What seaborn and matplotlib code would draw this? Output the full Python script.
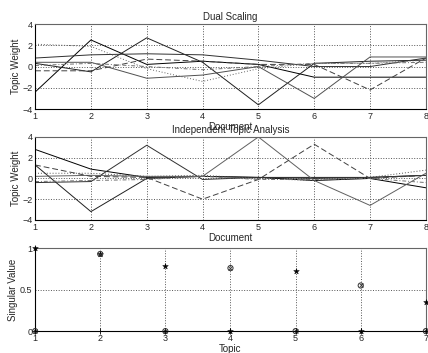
import numpy as np
import pandas as pd
import matplotlib
matplotlib.use("Agg")
import matplotlib.pyplot as plt
import seaborn as sns

# Dados
documents = [1, 2, 3, 4, 5, 6, 7, 8]

dual_scaling = {
    "t1": [-2.4, 2.5, 0.2, 0.5, 0.2, -1.0, -1.0, -1.0],
    "t2": [0.3, -0.5, 2.7, 0.4, -3.6, 0.3, 0.5, 0.6],
    "t3": [0.8, 1.1, 1.2, 1.1, 0.6, 0.0, 0.0, 0.8],
    "t4": [2.1, 1.9, -0.2, -1.4, -0.2, 0.3, 0.3, 0.6],
    "t5": [-0.4, -0.4, 0.7, 0.5, 0.2, 0.2, -2.2, 0.8],
    "t6": [0.4, 0.4, -1.1, -0.8, 0.0, -3.0, 0.9, 0.9],
    "t7": [0.1, 0.3, 0.0, -0.3, 0.0, 0.3, 0.3, 0.4],
}

ica = {
    "t1": [2.8, 0.9, 0.1, 0.2, 0.1, -0.2, 0.0, -0.9],
    "t2": [1.3, -3.2, 0.0, 0.2, 0.1, 0.1, 0.1, 0.3],
    "t3": [-0.4, -0.3, 3.2, -0.1, 0.1, 0.0, 0.1, 0.3],
    "t4": [0.2, 0.3, 0.2, 0.2, 4.0, -0.2, -2.6, 0.5],
    "t5": [1.3, 0.2, 0.1, -2.0, -0.1, 3.3, 0.0, 0.3],
    "t6": [0.5, 0.5, 0.2, 0.3, 0.0, -0.2, 0.1, 0.8],
    "t7": [-0.3, -0.2, -0.1, 0.2, -0.1, -0.1, 0.0, -0.4],
}

topics = [1, 2, 3, 4, 5, 6, 7]
sv_star = [1.0, 0.93, 0.78, 0.0, 0.72, 0.0, 0.35]
sv_circle = [0.0, 0.93, 0.0, 0.76, 0.0, 0.55, 0.0]
sv_plus = [0.0, 0.0, 0.0, 0.0, 0.0, 0.0, 0.0]


def to_long(d):
    rows = []
    for k, vals in d.items():
        for x, v in zip(documents, vals):
            rows.append({"doc": x, "weight": v, "topic": k})
    return pd.DataFrame(rows)


sns.set_style("white")
plt.rcParams["font.family"] = ["Liberation Sans", "DejaVu Sans"]
plt.rcParams["font.size"] = 7

grays = ["#000000", "#202020", "#303030", "#606060", "#404040", "#505050", "#707070"]
dashes_dual = ["", "", "", (1, 2), (6, 3), "", (4, 2, 1, 2)]
dashes_ica = ["", "", "", "", (6, 3), (1, 2), (4, 2, 1, 2)]

fig = plt.figure(figsize=(4.28, 3.53), dpi=100)
ax1 = fig.add_axes([0.082, 0.691, 0.913, 0.241])
ax2 = fig.add_axes([0.082, 0.377, 0.913, 0.235])
ax3 = fig.add_axes([0.082, 0.062, 0.913, 0.235])

for ax, data, title, dsh in [(ax1, dual_scaling, "Dual Scaling", dashes_dual),
                             (ax2, ica, "Independent Topic Analysis", dashes_ica)]:
    sns.lineplot(data=to_long(data), x="doc", y="weight", hue="topic",
                 style="topic", palette=grays, dashes=dsh,
                 linewidth=0.7, legend=False, ax=ax)
    ax.set_xlim(1, 8)
    ax.set_ylim(-4, 4)
    ax.set_xticks(documents)
    ax.set_yticks([-4, -2, 0, 2, 4])
    ax.set_title(title, fontsize=7, pad=3)
    ax.set_xlabel("Document", fontsize=7, labelpad=1)
    ax.set_ylabel("Topic Weight", fontsize=7, labelpad=1)

sns.scatterplot(x=topics, y=sv_star, marker="*", s=18, color="black",
                edgecolor="black", ax=ax3, clip_on=False, zorder=5)
sns.scatterplot(x=topics, y=sv_circle, marker="o", s=14, facecolor="none",
                edgecolor="#333333", linewidth=0.7, ax=ax3, clip_on=False, zorder=5)
sns.scatterplot(x=topics, y=sv_circle, marker="x", s=8, color="#333333",
                linewidth=0.6, ax=ax3, clip_on=False, zorder=5)
sns.scatterplot(x=topics, y=sv_plus, marker="+", s=14, color="black",
                linewidth=0.6, ax=ax3, clip_on=False, zorder=5)
ax3.set_xlim(1, 7)
ax3.set_ylim(0, 1)
ax3.set_xticks(topics)
ax3.set_yticks([0, 0.5, 1])
ax3.set_yticklabels(["0", "0.5", "1"])
ax3.set_xlabel("Topic", fontsize=7, labelpad=1)
ax3.set_ylabel("Singular Value", fontsize=7, labelpad=1)

for ax in (ax1, ax2, ax3):
    ax.grid(True, linestyle=":", color="#555555", linewidth=0.7)
    ax.tick_params(direction="in", length=3, labelsize=6.5, pad=2)
    for sp in ax.spines.values():
        sp.set_color("black")
        sp.set_linewidth(0.8)
    for sp in ("top", "right"):
        ax.spines[sp].set_color("#666666")

fig.savefig("out.png", dpi=100)
